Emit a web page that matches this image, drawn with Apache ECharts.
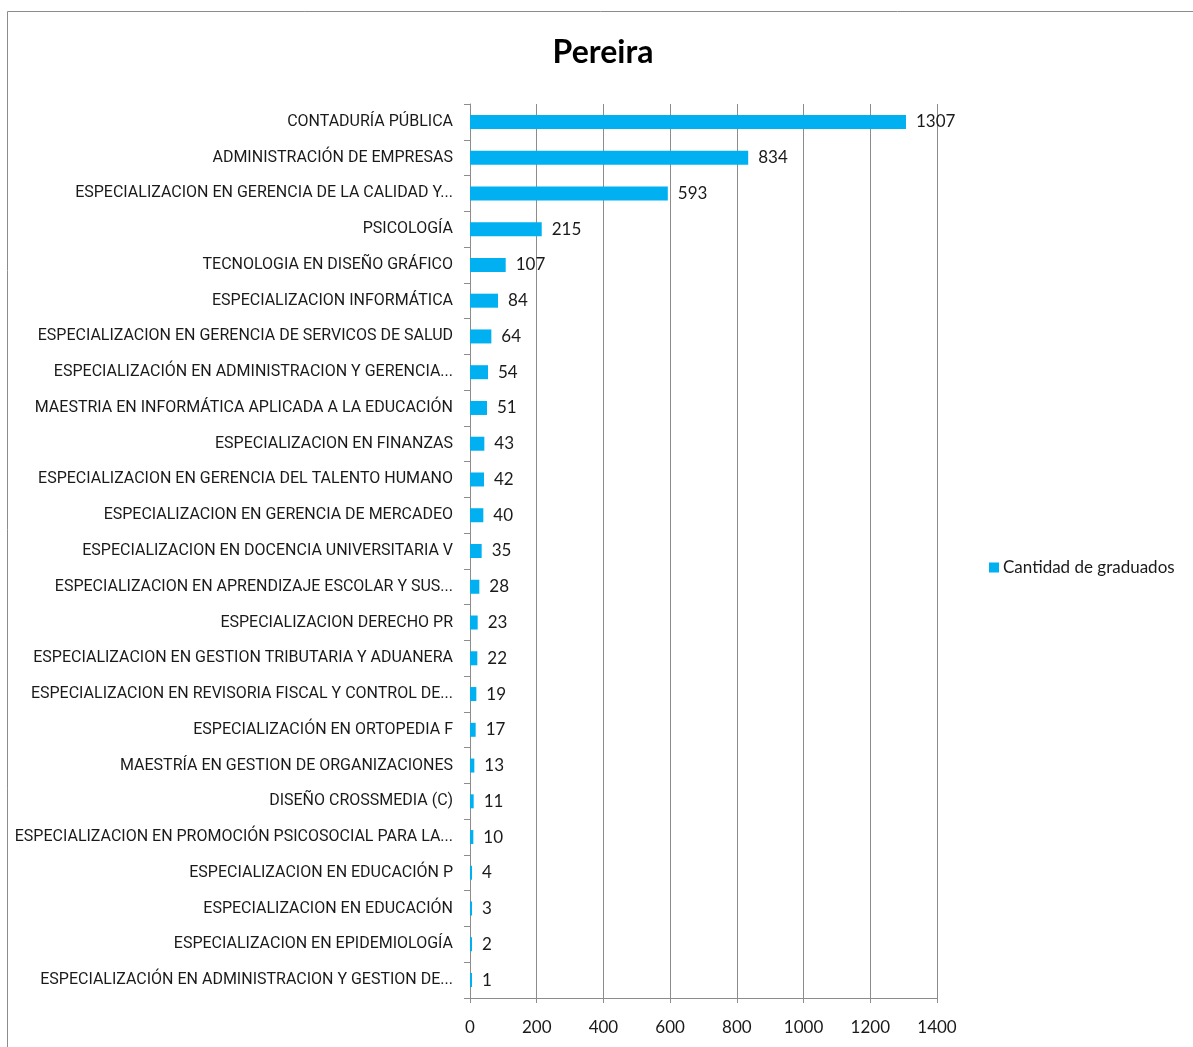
<!DOCTYPE html>
<html>
<head>
<meta charset="utf-8">
<script src="https://cdn.jsdelivr.net/npm/echarts@6/dist/echarts.min.js"></script>
<style>
html,body{margin:0;padding:0;background:#fff;}
#c{width:1193px;height:1047px;}
</style>
</head>
<body>
<div id="c"></div>
<script>
var categories = [
  "CONTADURÍA PÚBLICA",
  "ADMINISTRACIÓN DE EMPRESAS",
  "ESPECIALIZACION EN GERENCIA DE LA CALIDAD Y...",
  "PSICOLOGÍA",
  "TECNOLOGIA EN DISEÑO GRÁFICO",
  "ESPECIALIZACION INFORMÁTICA",
  "ESPECIALIZACION EN GERENCIA DE SERVICOS DE SALUD",
  "ESPECIALIZACIÓN EN ADMINISTRACION Y GERENCIA...",
  "MAESTRIA EN INFORMÁTICA APLICADA A LA EDUCACIÓN",
  "ESPECIALIZACION EN FINANZAS",
  "ESPECIALIZACION EN GERENCIA DEL TALENTO HUMANO",
  "ESPECIALIZACION EN GERENCIA DE MERCADEO",
  "ESPECIALIZACION EN DOCENCIA UNIVERSITARIA V",
  "ESPECIALIZACION EN APRENDIZAJE ESCOLAR Y SUS...",
  "ESPECIALIZACION DERECHO PR",
  "ESPECIALIZACION EN GESTION TRIBUTARIA Y ADUANERA",
  "ESPECIALIZACION EN REVISORIA FISCAL Y CONTROL DE...",
  "ESPECIALIZACIÓN EN ORTOPEDIA F",
  "MAESTRÍA EN GESTION DE ORGANIZACIONES",
  "DISEÑO CROSSMEDIA (C)",
  "ESPECIALIZACION EN PROMOCIÓN PSICOSOCIAL PARA LA...",
  "ESPECIALIZACION EN EDUCACIÓN P",
  "ESPECIALIZACION EN EDUCACIÓN",
  "ESPECIALIZACION EN EPIDEMIOLOGÍA",
  "ESPECIALIZACIÓN EN ADMINISTRACION Y GESTION DE..."
];
var graduados = [1307, 834, 593, 215, 107, 84, 64, 54, 51, 43, 42, 40, 35, 28, 23, 22, 19, 17, 13, 11, 10, 4, 3, 2, 1];
var seriesName = "Cantidad de graduados";
var titleText = "Pereira";

var FONT = "Lato";
var CATFONT = "Roboto";
var chart = echarts.init(document.getElementById('c'));
chart.setOption({
  animation: false,
  textStyle: {fontFamily: FONT},
  graphic: [{
    type: 'rect',
    shape: {x: 7.5, y: 11.5, width: 1300, height: 1200},
    style: {fill: 'none', stroke: '#8c8c8c', lineWidth: 1},
    silent: true
  }],
  title: {
    text: titleText,
    left: 598,
    top: 32,
    textAlign: 'center',
    textStyle: {fontFamily: FONT, fontSize: 32, fontWeight: 'bold', color: '#000'}
  },
  legend: {
    data: [seriesName],
    left: 984,
    top: 554,
    icon: 'rect',
    itemWidth: 10,
    itemHeight: 10,
    itemGap: 4,
    textStyle: {fontFamily: FONT, fontSize: 17, color: '#1a1a1a', padding: [0,0,0,-1]}
  },
  grid: {left: 470, right: 256, top: 104, bottom: 49, containLabel: false, outerBoundsMode: 'none'},
  xAxis: {
    type: 'value',
    min: 0, max: 1400, interval: 200,
    axisLine: {show: true, lineStyle: {color: '#8c8c8c'}},
    axisTick: {show: true, length: 5, lineStyle: {color: '#8c8c8c'}},
    splitLine: {show: true, lineStyle: {color: '#8c8c8c', width: 1}},
    axisLabel: {margin: 21, fontSize: 17, color: '#1a1a1a', fontFamily: FONT, formatter: function (v) { return String(v); }}
  },
  yAxis: {
    type: 'category',
    data: categories,
    inverse: true,
    axisLine: {show: true, lineStyle: {color: '#8c8c8c'}},
    axisTick: {show: true, length: 6, lineStyle: {color: '#8c8c8c'}},
    axisLabel: {margin: 17, fontSize: 16, color: '#1a1a1a', fontFamily: CATFONT, interval: 0, padding: [3, 0, 0, 0]}
  },
  series: [{
    name: seriesName,
    type: 'bar',
    data: graduados,
    barWidth: 14,
    barMinHeight: 2,
    itemStyle: {color: '#00B0F0'},
    label: {show: true, position: 'right', distance: 10, fontSize: 17, color: '#1a1a1a', fontFamily: FONT, padding: [2, 0, 0, 0]}
  }]
});
</script>
</body>
</html>
